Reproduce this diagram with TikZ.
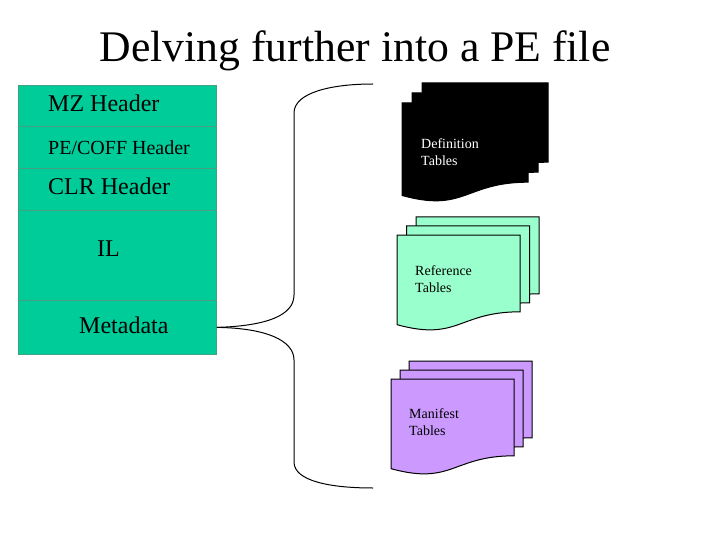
\documentclass[tikz,border=0pt]{standalone}
\usepackage{fontspec}
\setmainfont{LiberationSerif}[Extension=.ttf, UprightFont=*-Regular, BoldFont=*-Bold, ItalicFont=*-Italic]
\usepackage{xcolor}
\usepackage{tikz}
\usetikzlibrary{positioning, calc}

\definecolor{peteal}{RGB}{0,204,153}
\definecolor{peedge}{RGB}{70,160,130}
\definecolor{refmint}{RGB}{153,255,204}
\definecolor{manlilac}{RGB}{204,153,255}

% one sheet of a table stack: x, y (top left), width, height, fill
\newcommand{\tablesheet}[5]{%
    \filldraw[sheet, fill=#5] ({#1},{#2}) -- ++(#3,0) -- ++(0,{0.8*#4})
        .. controls ({#1+0.5*#3},{#2+0.8*#4}) and ({#1+0.5*#3},{#2+1.11*#4}) .. ({#1},{#2+0.934*#4}) -- cycle;%
}

\begin{document}
\begin{tikzpicture}[x=1pt, y=-1pt,
    filerow/.style={rectangle, draw=peedge, fill=peteal, line width=0.8pt, minimum width=198pt, anchor=north west, inner sep=0pt},
    rowtext/.style={anchor=base west, inner sep=0pt, font=\fontsize{24}{28}\selectfont},
    sheet/.style={draw=black, line width=1pt},
    sheettext/.style={anchor=base west, align=left, font=\fontsize{14}{17}\selectfont, inner sep=0pt}]

    \useasboundingbox (0,0) rectangle (720,540);

    % Title
    \node[anchor=base, inner sep=0pt, font=\fontsize{43.7}{52}\selectfont] (title) at (355,62) {Delving further into a PE file};

    % The PE file, one row per part
    \node[filerow, minimum height=41pt] (mz) at (18,85) {};
    \node[filerow, minimum height=42pt] (pecoff) at (18,126) {};
    \node[filerow, minimum height=42pt] (clr) at (18,168) {};
    \node[filerow, minimum height=90pt] (il) at (18,210) {};
    \node[filerow, minimum height=54pt] (meta) at (18,300) {};

    \node[rowtext] (mzlabel) at (48,112) {MZ Header};
    \node[rowtext, font=\fontsize{20}{24}\selectfont] (pecofflabel) at (48,155) {PE/COFF Header};
    \node[rowtext] (clrlabel) at (48,195) {CLR Header};
    \node[rowtext] (illabel) at (97,256) {IL};
    \node[rowtext] (metalabel) at (79,333) {Metadata};

    % Brace from the metadata row
    \coordinate (bracetop) at (373,84);
    \coordinate (bracebot) at (373,488);
    \draw[line width=1pt] (meta.east) .. controls (265,326) and (294,316) .. (294,295) -- (294,113)
        .. controls (294,93) and (330,84) .. (bracetop);
    \draw[line width=1pt] (meta.east) .. controls (265,328) and (294,340) .. (294,360) -- (294,462)
        .. controls (294,481) and (330,488) .. (bracebot);

    % Definition tables (base of the node is the second line)
    \foreach \d in {2,1,0}
        \tablesheet{402+10*\d}{103-10*\d}{126}{99}{black};
    \node[sheettext, text=white] (deftext) at (421,166) {Definition\\Tables};

    % Reference tables
    \foreach \d in {2,1,0}
        \tablesheet{397+9.5*\d}{235-9*\d}{123}{96}{refmint};
    \node[sheettext] (reftext) at (415,292) {Reference\\Tables};

    % Manifest tables
    \foreach \d in {2,1,0}
        \tablesheet{391+9*\d}{379-9*\d}{123}{96}{manlilac};
    \node[sheettext] (mantext) at (409,435) {Manifest\\Tables};

\end{tikzpicture}
\end{document}
